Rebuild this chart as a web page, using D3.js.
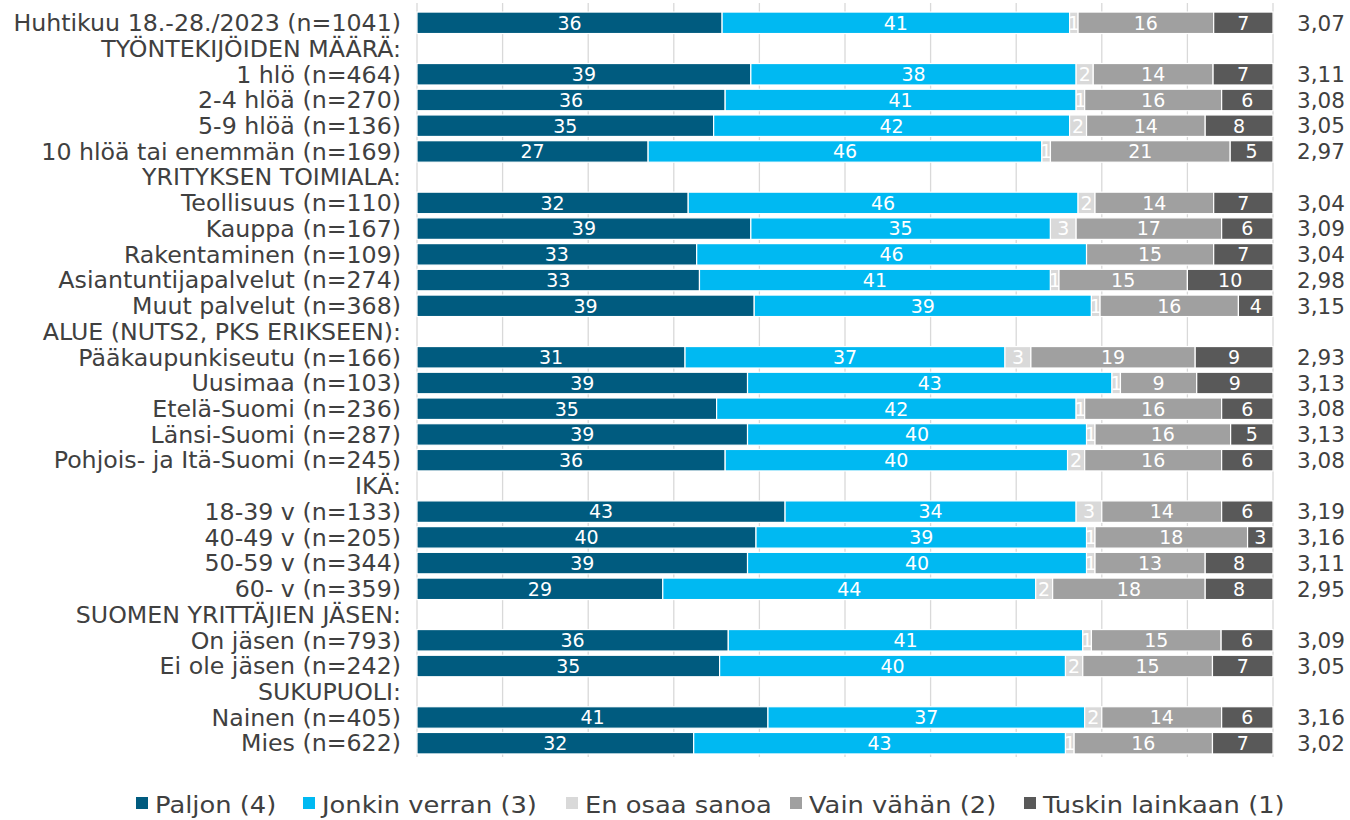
<!DOCTYPE html>
<html><head><meta charset="utf-8">
<script src="https://cdn.jsdelivr.net/npm/d3@7"></script>
<style>body{margin:0;background:#fff}svg{display:block}text{font-family:"DejaVu Sans",Verdana,sans-serif}</style>
</head><body><svg id="c" width="1350" height="820"></svg>
<script>
const categories = ["Huhtikuu 18.-28./2023 (n=1041)","TYÖNTEKIJÖIDEN MÄÄRÄ:","1 hlö (n=464)","2-4 hlöä (n=270)","5-9 hlöä (n=136)","10 hlöä tai enemmän (n=169)","YRITYKSEN TOIMIALA:","Teollisuus (n=110)","Kauppa (n=167)","Rakentaminen (n=109)","Asiantuntijapalvelut (n=274)","Muut palvelut (n=368)","ALUE (NUTS2, PKS ERIKSEEN):","Pääkaupunkiseutu (n=166)","Uusimaa (n=103)","Etelä-Suomi (n=236)","Länsi-Suomi (n=287)","Pohjois- ja Itä-Suomi (n=245)","IKÄ:","18-39 v (n=133)","40-49 v (n=205)","50-59 v (n=344)","60- v (n=359)","SUOMEN YRITTÄJIEN JÄSEN:","On jäsen (n=793)","Ei ole jäsen (n=242)","SUKUPUOLI:","Nainen (n=405)","Mies (n=622)"];
const seriesNames = ["Paljon (4)","Jonkin verran (3)","En osaa sanoa","Vain vähän (2)","Tuskin lainkaan (1)"];
const paljon  = [36,null,39,36,35,27,null,32,39,33,33,39,null,31,39,35,39,36,null,43,40,39,29,null,36,35,null,41,32];
const jonkin  = [41,null,38,41,42,46,null,46,35,46,41,39,null,37,43,42,40,40,null,34,39,40,44,null,41,40,null,37,43];
const eos     = [1,null,2,1,2,1,null,2,3,0,1,1,null,3,1,1,1,2,null,3,1,1,2,null,1,2,null,2,1];
const vain    = [16,null,14,16,14,21,null,14,17,15,15,16,null,19,9,16,16,16,null,14,18,13,18,null,15,15,null,14,16];
const tuskin  = [7,null,7,6,8,5,null,7,6,7,10,4,null,9,9,6,5,6,null,6,3,8,8,null,6,7,null,6,7];
const means   = ["3,07","","3,11","3,08","3,05","2,97","","3,04","3,09","3,04","2,98","3,15","","2,93","3,13","3,08","3,13","3,08","","3,19","3,16","3,11","2,95","","3,09","3,05","","3,16","3,02"];
const colors = ["#005B7F","#00B9F2","#D9D9D9","#A0A0A0","#595959"];

const svg = d3.select("#c");
const x0 = 417, x1 = 1273;
const x = d3.scaleLinear().domain([0,1]).range([x0,x1]);
const y = d3.scaleBand().domain(categories).range([10,756]).paddingInner(0.165).paddingOuter(0.08);

function stretch(sel, f){
  sel.each(function(){ const w=this.getComputedTextLength(); if(w>0){ this.setAttribute("textLength", w*f); this.setAttribute("lengthAdjust","spacingAndGlyphs"); } });
}

// gridlines
svg.append("g").selectAll("line").data(d3.range(0,1.0001,0.1)).join("line")
  .attr("x1",d=>x(d)).attr("x2",d=>x(d)).attr("y1",3).attr("y2",757)
  .attr("stroke","#D9D9D9").attr("stroke-width",1.3);

const rows = categories.map((c,i)=>({c,i,vals:[paljon[i],jonkin[i],eos[i],vain[i],tuskin[i]]}));
const dataRows = rows.filter(r=>r.vals[0]!==null);
const g = svg.append("g");
dataRows.forEach(r=>{
  const sum = d3.sum(r.vals);
  let cum = 0;
  r.vals.forEach((v,k)=>{
    const a = cum/sum, b = (cum+v)/sum; cum += v;
    if(v===0) return;
    g.append("rect").attr("x",x(a)).attr("y",y(r.c)).attr("width",x(b)-x(a)).attr("height",y.bandwidth())
      .attr("fill",colors[k]).attr("stroke","#fff").attr("stroke-width",1.2);
    g.append("text").attr("x",(x(a)+x(b))/2).attr("y",y(r.c)+y.bandwidth()/2).attr("dy","0.36em")
      .attr("text-anchor","middle").attr("fill","#fff").attr("font-size",19).text(v);
  });
});

// category labels
svg.append("g").selectAll("text").data(categories).join("text")
  .attr("x",401).attr("y",d=>y(d)+y.bandwidth()/2).attr("dy","0.36em").attr("text-anchor","end")
  .attr("fill","#404040").attr("font-size",23).text(d=>d)
  .call(stretch,1.03);

// means
svg.append("g").selectAll("text").data(categories).join("text")
  .attr("x",1297).attr("y",d=>y(d)+y.bandwidth()/2).attr("dy","0.36em")
  .attr("fill","#404040").attr("font-size",21.5).text((d,i)=>means[i]);

// legend
const legX = [136,303,566,790,1024];
const lg = svg.append("g");
seriesNames.forEach((s,k)=>{
  lg.append("rect").attr("x",legX[k]).attr("y",797).attr("width",12).attr("height",12).attr("fill",colors[k]);
  lg.append("text").attr("x",legX[k]+19).attr("y",805).attr("dy","0.36em").attr("fill","#404040")
    .attr("font-size",23).text(s).call(stretch,1.12);
});
</script></body></html>
